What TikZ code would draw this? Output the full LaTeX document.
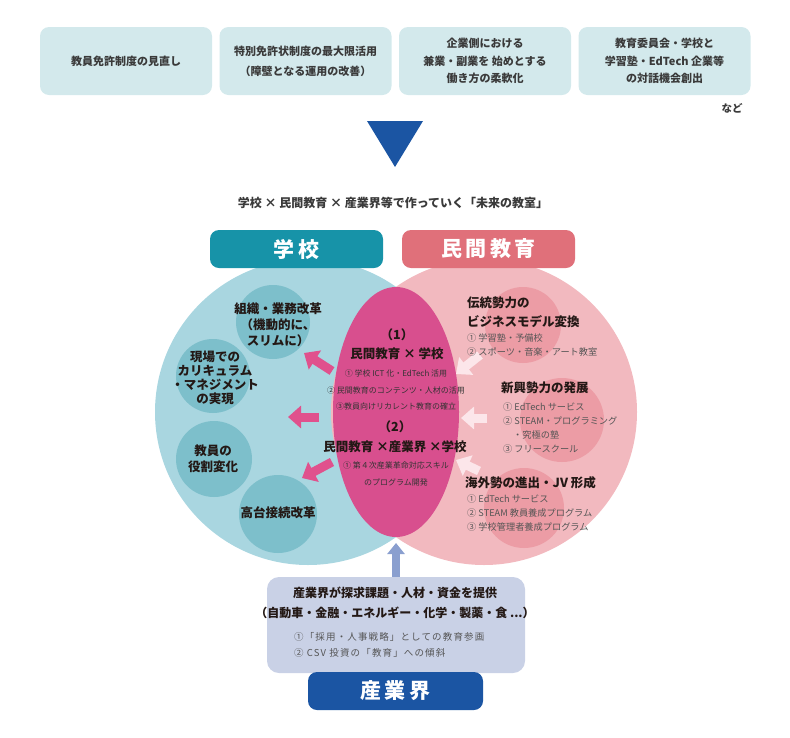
\documentclass[tikz,border=0pt]{standalone}
\usepackage{fontspec}
\setmainfont{Noto Sans CJK JP}
\usepackage{tikz}
\usetikzlibrary{positioning,shapes.geometric,arrows.meta}
\definecolor{boxteal}{HTML}{D3E9EC}
\definecolor{navy}{HTML}{1B55A3}
\definecolor{tealtab}{HTML}{1793A8}
\definecolor{rosetab}{HTML}{E0707A}
\definecolor{schoolbg}{HTML}{A9D6E0}
\definecolor{privbg}{HTML}{F2B9BF}
\definecolor{schoolsub}{HTML}{7DBFCB}
\definecolor{privsub}{HTML}{EC9CA5}
\definecolor{coremag}{HTML}{D84F8E}
\definecolor{pinkarr}{HTML}{E0518D}
\definecolor{palearr}{HTML}{FCE6EA}
\definecolor{bluearr}{HTML}{8A9FCF}
\definecolor{indbg}{HTML}{C9D1E6}
\definecolor{ink}{HTML}{231815}
\definecolor{txtgray}{HTML}{3A3A3A}
\definecolor{itemgray}{HTML}{555555}

\begin{document}
\begin{tikzpicture}[x=1pt,y=-1pt,inner sep=0pt,
  topbox/.style={rounded corners=9pt,fill=boxteal,minimum width=172pt,minimum height=68pt,
    align=center,text=txtgray,font=\bfseries\fontsize{11}{17.5}\selectfont},
  tab/.style={rounded corners=9pt,minimum width=173pt,minimum height=38pt,text=white,
    font=\bfseries\fontsize{21}{21}\selectfont\addfontfeature{LetterSpace=15}},
  bigc/.style={circle,minimum size=306pt},
  subc/.style={circle,minimum size=#1},
  head/.style={align=center,text=ink,font=\bfseries\fontsize{12.5}{16}\selectfont},
  rhead/.style={align=left,anchor=west,text=ink,font=\bfseries\fontsize{12.5}{19}\selectfont},
  item/.style={align=left,anchor=west,text=itemgray,font=\fontsize{9.2}{14}\selectfont},
  citem/.style={align=center,text=black!80,font=\fontsize{8}{16.5}\selectfont},
  blockarr/.style={line width=9pt,-{Triangle[width=22pt,length=13pt]}}]
\useasboundingbox (0,0) rectangle (790,737);

% measures under discussion
\node[topbox] (b1) at (126,61) {教員免許制度の見直し};
\node[topbox,font=\bfseries\fontsize{11}{20}\selectfont] (b2) at (305.5,61)
  {特別免許状制度の最大限活用\\（障壁となる運用の改善）};
\node[topbox] (b3) at (485,61) {企業側における\\兼業・副業を 始めとする\\働き方の柔軟化};
\node[topbox] (b4) at (664.5,61) {教育委員会・学校と\\学習塾・EdTech 企業等\\の対話機会創出};
\node[text=txtgray,font=\bfseries\fontsize{10.5}{12}\selectfont] (etc) at (732,108) {など};

\fill[navy] (367,121) -- (423,121) -- (395,167) -- cycle;
\node[text=txtgray,font=\bfseries\fontsize{12}{14}\selectfont] (title) at (393,203)
  {学校 × 民間教育 × 産業界等で作っていく「未来の教室」};

% the two fields
\node[bigc,fill=schoolbg] (school) at (308,412) {};
\node[bigc,fill=privbg] (priv) at (484,412) {};
\node[subc=74pt,fill=schoolsub] (s1) at (273,322) {};
\node[subc=74pt,fill=schoolsub] (s2) at (213,376) {};
\node[subc=76pt,fill=schoolsub] (s3) at (214,459) {};
\node[subc=78pt,fill=schoolsub] (s4) at (278,514) {};
\node[subc=76pt,fill=privsub] (p1) at (523,325) {};
\node[subc=84pt,fill=privsub] (p2) at (562,420) {};
\node[subc=80pt,fill=privsub] (p3) at (524,508) {};
\node[ellipse,minimum width=126pt,minimum height=250pt,fill=coremag] (core) at (396,412) {};

\node[tab,fill=tealtab] (tschool) at (296.5,249) {学校};
\node[tab,fill=rosetab] (tpriv) at (488.5,249) {民間教育};

% arrows
\coordinate (pa1) at (332,371); \coordinate (pa1e) at (304,353);
\coordinate (pa2) at (319,417); \coordinate (pa2e) at (288,417);
\coordinate (pa3) at (332,462); \coordinate (pa3e) at (302,478);
\draw[blockarr,pinkarr] (pa1) -- (pa1e);
\draw[blockarr,pinkarr] (pa2) -- (pa2e);
\draw[blockarr,pinkarr] (pa3) -- (pa3e);
\coordinate (wa1) at (480,355); \coordinate (wa1e) at (456,374);
\coordinate (wa2) at (487,418); \coordinate (wa2e) at (461,418);
\coordinate (wa3) at (479,471); \coordinate (wa3e) at (456,460);
\draw[blockarr,palearr] (wa1) -- (wa1e);
\draw[blockarr,palearr] (wa2) -- (wa2e);
\draw[blockarr,palearr] (wa3) -- (wa3e);

% school side
\node[head] (t1) at (278,324.5) {組織・業務改革\\（機動的に、\\スリムに）};
\node[head,font=\bfseries\fontsize{12.5}{14}\selectfont] (t2) at (215,378)
  {現場での\\カリキュラム\\・マネジメント\\の実現};
\node[head] (t3) at (213,459) {教員の\\役割変化};
\node[head] (t4) at (278,513) {高台接続改革};

% core
\node[head,font=\bfseries\fontsize{12.5}{19}\selectfont] (e1) at (397,344.5) {（1）\\民間教育 × 学校};
\node[citem] (e1l) at (396,390)
  {① 学校 ICT 化・EdTech 活用\\② 民間教育のコンテンツ・人材の活用\\③教員向けリカレント教育の確立};
\node[head,font=\bfseries\fontsize{12.5}{20}\selectfont] (e2) at (395,437) {（2）\\民間教育 ×産業界 ×学校};
\node[citem,font=\fontsize{8}{17}\selectfont] (e2l) at (396,473.5) {① 第４次産業革命対応スキル\\のプログラム開発};

% private side
\node[rhead] (r1) at (467,312.5) {伝統勢力の\\ビジネスモデル変換};
\node[item] (r1l) at (467,344.5) {① 学習塾・予備校\\② スポーツ・音楽・アート教室};
\node[rhead] (r2) at (501,388) {新興勢力の発展};
\node[item] (r2l) at (503,428) {① EdTech サービス\\② STEAM・プログラミング\\\hspace{10pt}・究極の塾\\③ フリースクール};
\node[rhead] (r3) at (465,483) {海外勢の進出・JV 形成};
\node[item] (r3l) at (467,513) {① EdTech サービス\\② STEAM 教員養成プログラム\\③ 学校管理者養成プログラム};

% industry
\node[rounded corners=12pt,fill=indbg,minimum width=258pt,minimum height=96pt] (ind) at (396,625) {};
\coordinate (up) at (396,543);
\draw[line width=8pt,bluearr,-{Triangle[width=17pt,length=11pt]}] (ind.north) -- (up);
\node[head,font=\bfseries\fontsize{12}{20}\selectfont] (i1) at (395,603)
  {産業界が探求課題・人材・資金を提供\\（自動車・金融・エネルギー・化学・製薬・食 ...）};
\node[item,font=\fontsize{9.5}{16}\selectfont\addfontfeature{LetterSpace=12}] (i1l) at (294,645)
  {①「採用・人事戦略」としての教育参画\\② CSV 投資の「教育」への傾斜};
\node[tab,fill=navy,minimum width=175pt] (tind) at (395.5,691) {産業界};
\end{tikzpicture}
\end{document}
